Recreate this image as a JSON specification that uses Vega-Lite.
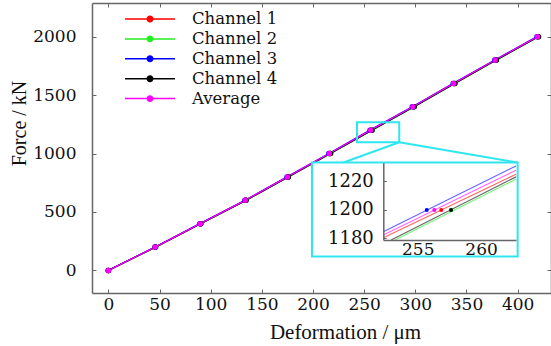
{
  "$schema": "https://vega.github.io/schema/vega-lite/v6.json",
  "width": 459,
  "height": 290,
  "autosize": "none",
  "padding": {"left": 92, "top": 3, "right": 0, "bottom": 53},
  "config": {
    "view": {"stroke": null},
    "axis": {
      "titleFont": "Liberation Serif",
      "labelFont": "DejaVu Serif",
      "labelFontSize": 17,
      "titleFontSize": 20,
      "labelColor": "#111",
      "titleColor": "#111",
      "titleFontWeight": "normal",
      "domainColor": "#666",
      "domainWidth": 1.5,
      "tickColor": "#666",
      "tickWidth": 1,
      "grid": false,
      "format": "d"
    }
  },
  "datasets": {
    "main": [
      {"series": "Channel 1", "def": 0, "force": 0},
      {"series": "Channel 1", "def": 45.9, "force": 200},
      {"series": "Channel 1", "def": 90.0, "force": 400},
      {"series": "Channel 1", "def": 134.1, "force": 600},
      {"series": "Channel 1", "def": 175.4, "force": 800},
      {"series": "Channel 1", "def": 216.5, "force": 1000},
      {"series": "Channel 1", "def": 256.9, "force": 1200},
      {"series": "Channel 1", "def": 298.1, "force": 1400},
      {"series": "Channel 1", "def": 338.0, "force": 1600},
      {"series": "Channel 1", "def": 378.6, "force": 1800},
      {"series": "Channel 1", "def": 419.8, "force": 2000},
      {"series": "Channel 2", "def": 0, "force": 0},
      {"series": "Channel 2", "def": 46.2, "force": 200},
      {"series": "Channel 2", "def": 90.4, "force": 400},
      {"series": "Channel 2", "def": 134.6, "force": 600},
      {"series": "Channel 2", "def": 176.0, "force": 800},
      {"series": "Channel 2", "def": 217.3, "force": 1000},
      {"series": "Channel 2", "def": 257.9, "force": 1200},
      {"series": "Channel 2", "def": 299.0, "force": 1400},
      {"series": "Channel 2", "def": 338.8, "force": 1600},
      {"series": "Channel 2", "def": 379.4, "force": 1800},
      {"series": "Channel 2", "def": 420.5, "force": 2000},
      {"series": "Channel 3", "def": 0, "force": 0},
      {"series": "Channel 3", "def": 45.6, "force": 200},
      {"series": "Channel 3", "def": 89.4, "force": 400},
      {"series": "Channel 3", "def": 133.4, "force": 600},
      {"series": "Channel 3", "def": 174.6, "force": 800},
      {"series": "Channel 3", "def": 215.5, "force": 1000},
      {"series": "Channel 3", "def": 255.7, "force": 1200},
      {"series": "Channel 3", "def": 297.0, "force": 1400},
      {"series": "Channel 3", "def": 337.0, "force": 1600},
      {"series": "Channel 3", "def": 377.6, "force": 1800},
      {"series": "Channel 3", "def": 418.9, "force": 2000},
      {"series": "Channel 4", "def": 0, "force": 0},
      {"series": "Channel 4", "def": 46.1, "force": 200},
      {"series": "Channel 4", "def": 90.3, "force": 400},
      {"series": "Channel 4", "def": 134.5, "force": 600},
      {"series": "Channel 4", "def": 175.9, "force": 800},
      {"series": "Channel 4", "def": 217.1, "force": 1000},
      {"series": "Channel 4", "def": 257.6, "force": 1200},
      {"series": "Channel 4", "def": 298.8, "force": 1400},
      {"series": "Channel 4", "def": 338.6, "force": 1600},
      {"series": "Channel 4", "def": 379.2, "force": 1800},
      {"series": "Channel 4", "def": 420.3, "force": 2000},
      {"series": "Average", "def": 0, "force": 0},
      {"series": "Average", "def": 45.8, "force": 200},
      {"series": "Average", "def": 89.8, "force": 400},
      {"series": "Average", "def": 133.8, "force": 600},
      {"series": "Average", "def": 175.0, "force": 800},
      {"series": "Average", "def": 216.0, "force": 1000},
      {"series": "Average", "def": 256.3, "force": 1200},
      {"series": "Average", "def": 297.6, "force": 1400},
      {"series": "Average", "def": 337.5, "force": 1600},
      {"series": "Average", "def": 378.1, "force": 1800},
      {"series": "Average", "def": 419.4, "force": 2000}
    ],
    "boxes": [
      {"kind": "small", "x1": 243, "x2": 284.3, "y1": 1097, "y2": 1268},
      {"kind": "big", "x1": 199, "x2": 400, "y1": 120, "y2": 923}
    ],
    "connectors": [
      {"id": "a", "x": 284.3, "y": 1097},
      {"id": "a", "x": 229.8, "y": 923},
      {"id": "b", "x": 284.3, "y": 1097},
      {"id": "b", "x": 400, "y": 923}
    ],
    "insetLines": [
      {"series": "Channel 3", "def": 252.28, "force": 1184.6},
      {"series": "Channel 3", "def": 262.76, "force": 1230.9},
      {"series": "Average", "def": 252.28, "force": 1182.3},
      {"series": "Average", "def": 262.76, "force": 1227.9},
      {"series": "Channel 1", "def": 252.28, "force": 1180.4},
      {"series": "Channel 1", "def": 262.76, "force": 1225.1},
      {"series": "Channel 4", "def": 252.9, "force": 1178.8},
      {"series": "Channel 4", "def": 262.76, "force": 1223.2},
      {"series": "Channel 2", "def": 253.2, "force": 1178.8},
      {"series": "Channel 2", "def": 262.76, "force": 1221.6}
    ],
    "insetPoints": [
      {"series": "Channel 2", "def": 257.63, "force": 1200},
      {"series": "Channel 3", "def": 255.71, "force": 1200},
      {"series": "Average", "def": 256.31, "force": 1200},
      {"series": "Channel 1", "def": 256.86, "force": 1200},
      {"series": "Channel 4", "def": 257.63, "force": 1200}
    ]
  },
  "resolve": {"scale": {"x": "independent", "y": "independent"}},
  "layer": [
    {
      "layer": [
        {
          "data": {"name": "main"},
          "mark": {"type": "line", "strokeWidth": 1.3},
          "encoding": {
            "x": {"field": "def", "type": "quantitative", "title": "Deformation / μm",
              "scale": {"domain": [-16, 432.6], "nice": false, "zero": false},
              "axis": {"orient": "bottom", "values": [0, 50, 100, 150, 200, 250, 300, 350, 400], "format": "d", "labelFont": "DejaVu Serif", "labelFontSize": 17, "tickSize": -4, "labelPadding": 7, "titleX": 253, "titleY": 39, "titleAlign": "center", "titleBaseline": "middle", "titleFontSize": 21}},
            "y": {"field": "force", "type": "quantitative", "title": "Force / kN",
              "scale": {"domain": [-193, 2288], "nice": false, "zero": false},
              "axis": {"orient": "left", "values": [0, 500, 1000, 1500, 2000], "format": "d", "labelFont": "DejaVu Serif", "labelFontSize": 17, "tickSize": -4, "labelPadding": 20, "titleX": -73, "titleY": 120, "titleAlign": "center", "titleBaseline": "middle", "titleAngle": -90}},
            "color": {"field": "series", "type": "nominal",
              "scale": {"domain": ["Channel 1", "Channel 2", "Channel 3", "Channel 4", "Average"], "range": ["#ff0000", "#22ee22", "#0000ff", "#000000", "#ff00ff"]},
              "legend": {"orient": "none", "legendX": 49, "legendY": 7, "title": null, "padding": 0,
                "symbolType": "M-3.125,0H3.125M-0.34,0A0.34,0.34,0,1,1,0.34,0A0.34,0.34,0,1,1,-0.34,0Z",
                "symbolSize": 256, "symbolStrokeWidth": 1.5, "labelFont": "DejaVu Serif", "labelFontSize": 16.5, "labelFontWeight": "normal",
                "labelColor": "#111", "labelOffset": 33, "rowPadding": 1.9, "labelLimit": 300,
                "encode": {"symbols": {"update": {"fill": {"scale": "color", "field": "value"}, "stroke": {"scale": "color", "field": "value"}, "opacity": {"value": 1}}}}}}
          }
        },
        {
          "data": {"name": "main"},
          "mark": {"type": "point", "filled": true, "size": 30, "opacity": 1},
          "encoding": {
            "x": {"field": "def", "type": "quantitative", "title": "Deformation / μm"},
            "y": {"field": "force", "type": "quantitative", "title": "Force / kN"},
            "color": {"field": "series", "type": "nominal"}
          }
        },
        {
          "data": {"name": "boxes"},
          "transform": [{"filter": "datum.kind === 'small'"}],
          "mark": {"type": "rect", "fill": null, "fillOpacity": 0, "stroke": "#2ee6f0", "strokeWidth": 2},
          "encoding": {
            "x": {"field": "x1", "type": "quantitative", "title": "Deformation / μm"},
            "x2": {"field": "x2"},
            "y": {"field": "y1", "type": "quantitative", "title": "Force / kN"},
            "y2": {"field": "y2"}
          }
        },
        {
          "data": {"name": "connectors"},
          "mark": {"type": "line", "stroke": "#2ee6f0", "strokeWidth": 2},
          "encoding": {
            "x": {"field": "x", "type": "quantitative", "title": "Deformation / μm"},
            "y": {"field": "y", "type": "quantitative", "title": "Force / kN"},
            "detail": {"field": "id"}
          }
        },
        {
          "data": {"name": "boxes"},
          "transform": [{"filter": "datum.kind === 'big'"}],
          "mark": {"type": "rect", "fill": "white", "stroke": "#2ee6f0", "strokeWidth": 2},
          "encoding": {
            "x": {"field": "x1", "type": "quantitative", "title": "Deformation / μm"},
            "x2": {"field": "x2"},
            "y": {"field": "y1", "type": "quantitative", "title": "Force / kN"},
            "y2": {"field": "y2"}
          }
        }
      ]
    },
    {
      "data": {"name": "main"},
      "mark": {"type": "point", "opacity": 0},
      "encoding": {
        "x": {"field": "def", "type": "quantitative",
          "scale": {"domain": [-16, 432.6], "nice": false, "zero": false},
          "axis": {"orient": "top", "labels": false, "title": null, "tickSize": -4, "values": [0, 50, 100, 150, 200, 250, 300, 350, 400]}},
        "y": {"field": "force", "type": "quantitative",
          "scale": {"domain": [-193, 2288], "nice": false, "zero": false},
          "axis": {"orient": "right", "labels": false, "title": null, "tickSize": -4, "values": [0, 500, 1000, 1500, 2000]}}
      }
    },
    {
      "layer": [
        {
          "data": {"name": "insetLines"},
          "mark": {"type": "line", "strokeWidth": 1.2, "opacity": 0.6},
          "encoding": {
            "x": {"field": "def", "type": "quantitative",
              "scale": {"domain": [252.28, 262.76], "range": [291.3, 424], "nice": false, "zero": false},
              "axis": {"orient": "bottom", "offset": -53, "values": [255, 260], "format": "d", "labelFont": "DejaVu Serif", "labelFontSize": 17, "ticks": false, "labelPadding": 1, "title": null, "zindex": 3}},
            "y": {"field": "force", "type": "quantitative",
              "scale": {"domain": [1178.8, 1233.2], "range": [237, 159.7], "nice": false, "zero": false},
              "axis": {"orient": "left", "offset": -291.3, "values": [1180, 1200, 1220], "format": "d", "labelFont": "DejaVu Serif", "labelFontSize": 18, "tickSize": -3, "labelPadding": 13, "title": null, "zindex": 3}},
            "color": {"field": "series", "type": "nominal"}
          }
        },
        {
          "data": {"name": "insetPoints"},
          "mark": {"type": "point", "filled": true, "size": 16, "opacity": 1},
          "encoding": {
            "x": {"field": "def", "type": "quantitative"},
            "y": {"field": "force", "type": "quantitative"},
            "color": {"field": "series", "type": "nominal"}
          }
        }
      ]
    }
  ]
}
